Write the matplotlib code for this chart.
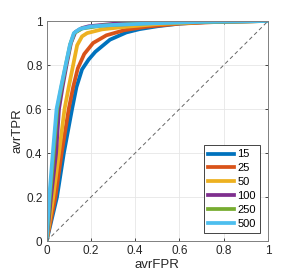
import matplotlib
matplotlib.use("Agg")
import matplotlib.pyplot as plt

plt.rcParams['font.family'] = ['Liberation Sans', 'DejaVu Sans']

# series labels and MATLAB default colours
labels = ['15', '25', '50', '100', '250', '500']
colors = ['#0072bd', '#d95319', '#edb120', '#7e2f8e', '#77ac30', '#4dbeee']

# ROC points
fpr_15 = [0, 0.047, 0.078, 0.115, 0.135, 0.16, 0.19, 0.22, 0.286, 0.36, 0.42, 0.5, 0.6, 0.75, 1]
tpr_15 = [0, 0.2, 0.4, 0.6, 0.7, 0.78, 0.825, 0.86, 0.915, 0.948, 0.963, 0.976, 0.988, 0.997, 1]

fpr_25 = [0, 0.04, 0.068, 0.1, 0.12, 0.141, 0.17, 0.21, 0.27, 0.35, 0.45, 0.6, 0.8, 1]
tpr_25 = [0, 0.2, 0.4, 0.6, 0.7, 0.785, 0.85, 0.9, 0.935, 0.958, 0.974, 0.988, 0.997, 1]

fpr_50 = [0, 0.03, 0.056, 0.081, 0.1, 0.12, 0.138, 0.16, 0.183, 0.25, 0.35, 0.5, 0.7, 1]
tpr_50 = [0, 0.2, 0.4, 0.6, 0.7, 0.8, 0.89, 0.93, 0.945, 0.962, 0.973, 0.986, 0.995, 1]

fpr_100 = [0, 0.02, 0.043, 0.056, 0.072, 0.09, 0.11, 0.13, 0.16, 0.19, 0.3, 0.5, 1]
tpr_100 = [0, 0.2, 0.4, 0.6, 0.7, 0.8, 0.9, 0.95, 0.968, 0.976, 0.987, 0.994, 1]

fpr_250 = [0, 0.015, 0.032, 0.048, 0.067, 0.087, 0.107, 0.125, 0.16, 0.25, 0.5, 1]
tpr_250 = [0, 0.2, 0.4, 0.6, 0.7, 0.8, 0.895, 0.945, 0.966, 0.979, 0.992, 1]

fpr_500 = [0, 0.012, 0.028, 0.045, 0.065, 0.086, 0.105, 0.123, 0.15, 0.2, 0.3, 0.5, 0.7, 1]
tpr_500 = [0, 0.2, 0.4, 0.6, 0.7, 0.8, 0.89, 0.945, 0.964, 0.975, 0.982, 0.99, 0.996, 1]

fprs = [fpr_15, fpr_25, fpr_50, fpr_100, fpr_250, fpr_500]
tprs = [tpr_15, tpr_25, tpr_50, tpr_100, tpr_250, tpr_500]

fig = plt.figure(figsize=(2.93, 2.80), dpi=100)
ax = fig.add_axes([0.159, 0.139, 0.756, 0.786])

for f, t, c, lab in zip(fprs, tprs, colors, labels):
    ax.plot(f, t, color=c, lw=2.7, label=lab, solid_joinstyle='round')

ax.plot([0, 1], [0, 1], ls=(0, (4, 3)), color='#666666', lw=0.7)

ax.set_xlim(0, 1)
ax.set_ylim(0, 1)
ticks = [0, 0.2, 0.4, 0.6, 0.8, 1]
ticklabels = ['0', '0.2', '0.4', '0.6', '0.8', '1']
ax.set_xticks(ticks)
ax.set_xticklabels(ticklabels)
ax.set_yticks(ticks)
ax.set_yticklabels(ticklabels)
ax.tick_params(direction='in', length=2.5, width=0.6, color='#262626',
               labelsize=8.5, labelcolor='#262626', top=True, right=True, pad=3)
ax.grid(True, color='#e6e6e6', lw=0.6)
ax.set_axisbelow(True)
for s in ax.spines.values():
    s.set_color('#808080')
    s.set_linewidth(0.7)

ax.set_xlabel('avrFPR', fontsize=9.5, color='#262626', labelpad=1)
ax.set_ylabel('avrTPR', fontsize=9.5, color='#262626', labelpad=2)

leg = ax.legend(loc='lower right', fontsize=8, fancybox=False, framealpha=1,
                edgecolor='#262626', handlelength=2.3, handletextpad=0.3,
                labelspacing=0.35, borderpad=0.4, borderaxespad=0.7)
leg.get_frame().set_linewidth(0.6)

fig.savefig('out.png', dpi=100)
